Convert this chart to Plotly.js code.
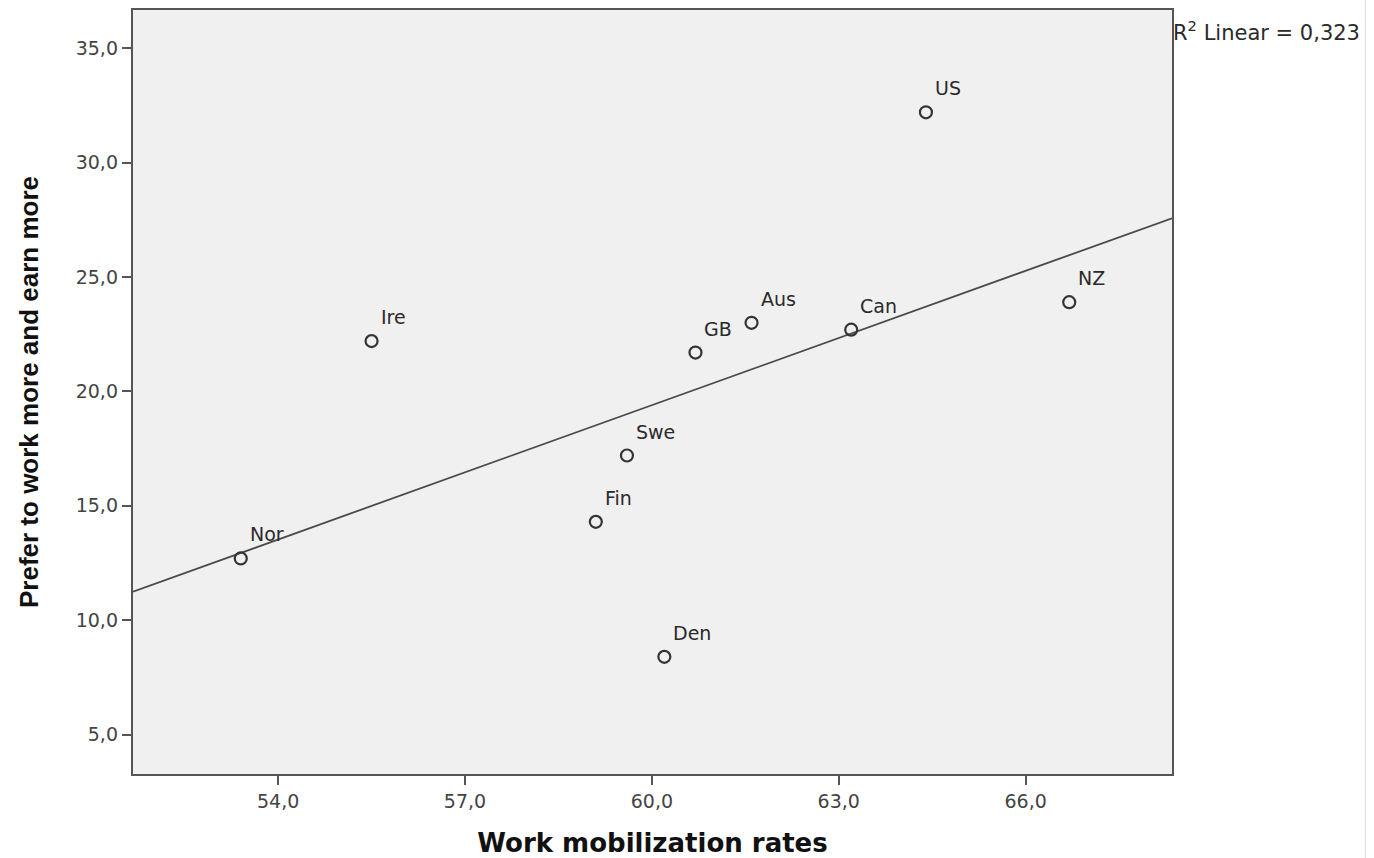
<!DOCTYPE html>
<html>
<head>
<meta charset="utf-8">
<script src="https://cdn.plot.ly/plotly-3.0.1.min.js"></script>
<style>
html,body{margin:0;padding:0;background:#fff;}
#chart{width:1374px;height:858px;}
</style>
</head>
<body>
<div id="chart"></div>
<script>
const countries = ["Nor","Ire","Fin","Swe","Den","GB","Aus","Can","US","NZ"];
const mobilization = [53.4, 55.5, 59.1, 59.6, 60.2, 60.7, 61.6, 63.2, 64.4, 66.7];
const preferMore = [12.7, 22.2, 14.3, 17.2, 8.4, 21.7, 23.0, 22.7, 32.2, 23.9];
const xTicks = [54, 57, 60, 63, 66];
const yTicks = [5, 10, 15, 20, 25, 30, 35];
const r2Label = "R<sup>2</sup> Linear = 0,323";

const xRange = [51.67, 68.35];
const yRange = [3.28, 36.67];

// least squares fit
const n = mobilization.length;
const mx = mobilization.reduce((a,b)=>a+b,0)/n;
const my = preferMore.reduce((a,b)=>a+b,0)/n;
let sxy = 0, sxx = 0;
for (let i=0;i<n;i++){ sxy += (mobilization[i]-mx)*(preferMore[i]-my); sxx += (mobilization[i]-mx)**2; }
const slope = sxy/sxx, intercept = my - slope*mx;
const fitX = [xRange[0], xRange[1]];
const fitY = fitX.map(v => intercept + slope*v);

const fmt = v => v.toFixed(1).replace('.', ',');
const wideFont = 'DejaVu Sans, Verdana, sans-serif';

const traces = [
  {x: fitX, y: fitY, mode: 'lines', type: 'scatter',
   line: {color: '#4a4a4a', width: 1.8}, hoverinfo: 'skip', showlegend: false},
  {x: mobilization, y: preferMore, mode: 'markers', type: 'scatter',
   marker: {symbol: 'circle-open', size: 12, color: '#333333', line: {width: 2.2, color: '#333333'}},
   showlegend: false}
];

const annotations = countries.map((c,i) => ({
  x: mobilization[i], y: preferMore[i], xref: 'x', yref: 'y',
  text: c, showarrow: false, xanchor: 'left', yanchor: 'middle',
  xshift: 7, yshift: 24,
  font: {family: wideFont, size: 19, color: '#2a2a2a'}
}));
annotations.push({
  xref: 'paper', yref: 'paper', x: 1, y: 1, xanchor: 'left', yanchor: 'top',
  xshift: -1, yshift: -5, text: r2Label, showarrow: false,
  font: {family: wideFont, size: 21, color: '#2a2a2a'}
});

const layout = {
  width: 1374, height: 858,
  paper_bgcolor: '#ffffff', plot_bgcolor: '#f0f0f0',
  margin: {l: 133, r: 202, t: 10, b: 84},
  showlegend: false,
  xaxis: {
    range: xRange, tickvals: xTicks, ticktext: xTicks.map(fmt),
    showgrid: false, zeroline: false,
    showline: true, linecolor: '#555555', linewidth: 2.2, mirror: true,
    ticks: 'outside', ticklen: 9, tickwidth: 2, tickcolor: '#555555',
    tickfont: {family: wideFont, size: 19, color: '#444444'},
    title: {text: '<b>Work mobilization rates</b>', standoff: 26,
            font: {family: 'DejaVu Sans, Verdana, sans-serif', size: 26, color: '#111111'}}
  },
  yaxis: {
    range: yRange, tickvals: yTicks, ticktext: yTicks.map(fmt),
    showgrid: false, zeroline: false,
    showline: true, linecolor: '#555555', linewidth: 2.2, mirror: true,
    ticks: 'outside', ticklen: 9, tickwidth: 2, tickcolor: '#555555',
    tickfont: {family: wideFont, size: 19, color: '#444444'},
    title: {text: '<b>Prefer to work more and earn more</b>', standoff: 30,
            font: {family: 'Liberation Sans, Arial, sans-serif', size: 26, color: '#111111'}}
  },
  annotations: annotations,
  shapes: [{type: 'line', xref: 'paper', yref: 'paper', x0: 1.186, x1: 1.186, y0: -0.12, y1: 1.02,
            line: {color: '#d8d8d8', width: 1}}]
};

Plotly.newPlot('chart', traces, layout, {displayModeBar: false, staticPlot: true});
</script>
</body>
</html>
